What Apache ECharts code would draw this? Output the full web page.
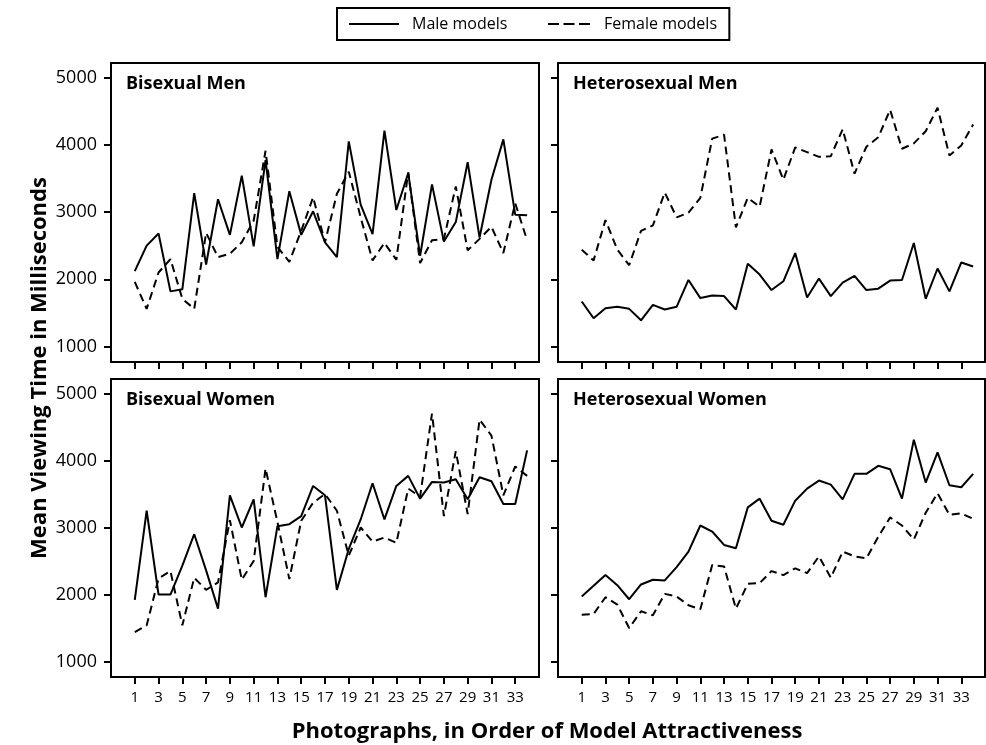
<!DOCTYPE html>
<html>
<head>
<meta charset="utf-8">
<script src="https://cdn.jsdelivr.net/npm/echarts@6/dist/echarts.min.js"></script>
<style>
  html, body { margin: 0; padding: 0; background: #fff; }
  #chart { width: 986px; height: 745px; }
</style>
</head>
<body>
<div id="chart"></div>
<script>
// photograph numbers (order of model attractiveness)
var photos = [1,2,3,4,5,6,7,8,9,10,11,12,13,14,15,16,17,18,19,20,21,22,23,24,25,26,27,28,29,30,31,32,33,34];
var xTickLabels = [1,3,5,7,9,11,13,15,17,19,21,23,25,27,29,31,33];
var yTickLabels = [1000,2000,3000,4000,5000];

var panelNames = ['Bisexual Men', 'Heterosexual Men', 'Bisexual Women', 'Heterosexual Women'];

// mean viewing time (ms)
var bisexualMenMale = [2120,2500,2680,1820,1850,3280,2220,3190,2660,3540,2490,3770,2300,3310,2660,3010,2550,2330,4050,3110,2670,4210,3030,3580,2350,3410,2560,2850,3740,2620,3480,4080,2960,2950];
var bisexualMenFemale = [1960,1560,2100,2300,1710,1560,2690,2330,2380,2550,2870,3910,2480,2260,2720,3220,2550,3270,3600,2920,2280,2540,2290,3590,2240,2580,2600,3380,2430,2600,2780,2390,3130,2580];

var heteroMenMale = [1670,1420,1570,1590,1560,1390,1620,1550,1590,1990,1720,1760,1750,1550,2230,2070,1840,1970,2390,1730,2010,1750,1950,2050,1840,1860,1980,1990,2540,1710,2160,1820,2250,2190];
var heteroMenFemale = [2440,2280,2880,2440,2210,2720,2800,3290,2920,2990,3210,4090,4150,2770,3210,3080,3930,3480,3960,3890,3820,3830,4230,3570,3970,4110,4520,3940,4020,4200,4550,3840,3990,4300];

var bisexualWomenMale = [1920,3250,2000,2000,2430,2900,2360,1790,3480,3000,3420,1960,3020,3050,3170,3620,3480,2070,2680,3120,3660,3120,3620,3770,3430,3680,3670,3720,3420,3750,3690,3350,3350,4150];
var bisexualWomenFemale = [1440,1540,2240,2350,1540,2250,2070,2180,3110,2220,2500,3880,3080,2230,3100,3370,3500,3250,2580,3000,2790,2850,2770,3580,3460,4700,3170,4140,3200,4610,4370,3480,3910,3770];

var heteroWomenMale = [1970,2130,2290,2140,1930,2150,2220,2210,2410,2640,3030,2940,2740,2690,3300,3430,3100,3040,3400,3580,3700,3640,3420,3800,3800,3920,3870,3430,4310,3670,4120,3630,3600,3800];
var heteroWomenFemale = [1700,1710,1960,1850,1500,1750,1690,2010,1970,1840,1780,2440,2420,1790,2160,2170,2350,2290,2390,2320,2570,2250,2640,2570,2540,2860,3150,3030,2820,3220,3510,3190,3210,3130];

var maleByPanel = [bisexualMenMale, heteroMenMale, bisexualWomenMale, heteroWomenMale];
var femaleByPanel = [bisexualMenFemale, heteroMenFemale, bisexualWomenFemale, heteroWomenFemale];

var FONT = '"Open Sans", "Noto Sans", sans-serif';

var grids = [
    { left: 111, top: 63, width: 428, height: 299 },
    { left: 558, top: 63, width: 427, height: 299 },
    { left: 111, top: 379, width: 428, height: 298 },
    { left: 558, top: 379, width: 427, height: 298 }
];

function pairs(values) {
    return photos.map(function (p, i) { return [p, values[i]]; });
}

var xAxes = [], yAxes = [], series = [], titles = [];

grids.forEach(function (g, i) {
    g.show = true;
    g.borderColor = '#000';
    g.borderWidth = 2;
    g.backgroundColor = '#fff';

    xAxes.push({
        type: 'value',
        gridIndex: i,
        min: -1,
        max: 35,
        axisLine: { show: false, onZero: false },
        axisTick: {
            show: true, inside: false, length: 7,
            customValues: xTickLabels,
            lineStyle: { color: '#000', width: 2 }
        },
        axisLabel: {
            show: i >= 2,
            customValues: xTickLabels,
            color: '#000', fontSize: 15, fontFamily: FONT, margin: 13
        },
        splitLine: { show: false }
    });

    yAxes.push({
        type: 'value',
        gridIndex: i,
        min: 770,
        max: 5215,
        axisLine: { show: false, onZero: false },
        axisTick: {
            show: true, inside: false, length: 7,
            customValues: yTickLabels,
            lineStyle: { color: '#000', width: 2 }
        },
        axisLabel: {
            show: i % 2 === 0,
            customValues: yTickLabels,
            formatter: function (v) { return String(v); },
            color: '#000', fontSize: 18, fontFamily: FONT, margin: 14
        },
        splitLine: { show: false }
    });

    titles.push({
        text: panelNames[i],
        left: g.left + 15,
        top: g.top + 12,
        textStyle: { fontSize: 18, fontWeight: 'bold', color: '#000', fontFamily: FONT },
        padding: 0
    });

    series.push({
        name: 'Male models',
        type: 'line',
        xAxisIndex: i, yAxisIndex: i,
        data: pairs(maleByPanel[i]),
        symbol: 'none',
        lineStyle: { color: '#000', width: 2, type: 'solid' },
        itemStyle: { color: '#000' },
        animation: false
    });
    series.push({
        name: 'Female models',
        type: 'line',
        xAxisIndex: i, yAxisIndex: i,
        data: pairs(femaleByPanel[i]),
        symbol: 'none',
        lineStyle: { color: '#000', width: 2, type: [8, 5] },
        itemStyle: { color: '#000' },
        animation: false
    });
});

var legendText = { fontSize: 16, color: '#000', fontFamily: FONT };

var chart = echarts.init(document.getElementById('chart'), null, { renderer: 'canvas' });

chart.setOption({
    backgroundColor: '#fff',
    animation: false,
    title: titles,
    legend: [
        {
            data: ['Male models'],
            left: 337,
            top: 8,
            borderColor: '#000',
            borderWidth: 2,
            padding: [8, 222, 8, 12],
            icon: 'path://M0,0H50V2H0Z',
            itemWidth: 50,
            itemHeight: 2,
            textStyle: Object.assign({ padding: [0, 0, 0, 8] }, legendText)
        },
        {
            data: ['Female models'],
            left: 548,
            top: 8,
            padding: [8, 0, 8, 0],
            icon: 'path://M0,0H11V2H0ZM15.5,0H26.5V2H15.5ZM31,0H42V2H31Z',
            itemWidth: 42,
            itemHeight: 2,
            textStyle: Object.assign({ padding: [0, 0, 0, 9] }, legendText)
        }
    ],
    grid: grids,
    xAxis: xAxes,
    yAxis: yAxes,
    series: series,
    graphic: [
        {
            type: 'text',
            x: 40, y: 368,
            rotation: Math.PI / 2,
            style: {
                text: 'Mean Viewing Time in Milliseconds',
                fill: '#000',
                font: 'bold 22px ' + FONT,
                align: 'center',
                verticalAlign: 'middle'
            }
        },
        {
            type: 'text',
            x: 547, y: 732,
            style: {
                text: 'Photographs, in Order of Model Attractiveness',
                fill: '#000',
                font: 'bold 22px ' + FONT,
                align: 'center',
                verticalAlign: 'middle'
            }
        }
    ]
});
</script>
</body>
</html>
